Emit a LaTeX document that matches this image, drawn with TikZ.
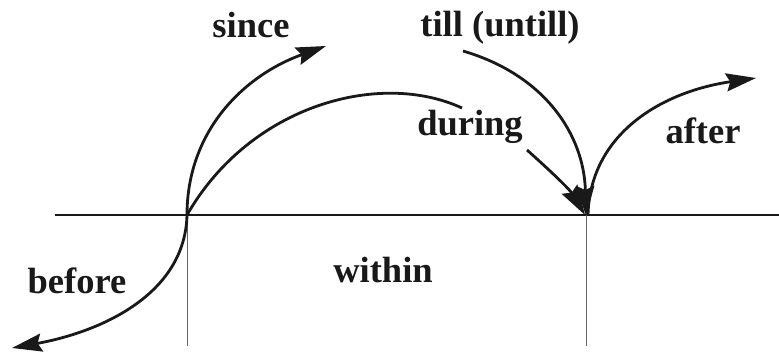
\documentclass[tikz,border=0pt]{standalone}
\usepackage{fontspec}
\setmainfont{Liberation Serif}
\usetikzlibrary{arrows.meta}
\tikzset{
  curve/.style={line width=2.8pt, black!90},
  arr/.style={curve, -{Stealth[length=30pt,width=18pt,inset=4pt]}},
  lbl/.style={anchor=base, inner sep=0pt, font=\bfseries\fontsize{36.5}{40}\selectfont, text=black!90},
  axis/.style={line width=2.2pt, black!90},
  tick/.style={line width=1pt, black!60}
}
\begin{document}
\begin{tikzpicture}[x=1pt,y=-1pt]
\useasboundingbox (0,0) rectangle (779,356);
% points
\coordinate (L) at (55,215);
\coordinate (R) at (779,215);
\coordinate (A) at (187,215);
\coordinate (B) at (586,215);
\coordinate (Ab) at (187,346);
\coordinate (Bb) at (586,346);
\coordinate (sinceEnd) at (326,46);
\coordinate (beforeEnd) at (12,348);
\coordinate (duringMid) at (462,108);
\coordinate (duringStart) at (527,150);
\coordinate (tillStart) at (463,51);
\coordinate (afterEnd) at (756,78);
% axis and ticks
\draw[axis] (L) -- (R);
\draw[tick] (A) -- (Ab);
\draw[tick] (B) -- (Bb);
% since / before
\draw[arr] (A) .. controls (187,130) and (245,75) .. (sinceEnd);
\draw[arr] (A) .. controls (185,295) and (100,332) .. (beforeEnd);
% during
\draw[curve] (A) .. controls (250,105) and (380,70) .. (duringMid);
\draw[arr] (duringStart) .. controls (555,175) and (570,190) .. ([xshift=-1pt]B);
% till
\draw[arr] (tillStart) .. controls (545,75) and (584,135) .. ([yshift=-1pt]B);
% after
\draw[arr] ([xshift=2pt]B) .. controls (590,135) and (660,92) .. (afterEnd);
% labels
\node[lbl] (since) at (251,37) {since};
\node[lbl] (till) at (500,36) {till (untill)};
\node[lbl] (during) at (470,135) {during};
\node[lbl] (after) at (703,143) {after};
\node[lbl] (within) at (383,282) {within};
\node[lbl] (before) at (77,293) {before};
\end{tikzpicture}
\end{document}
